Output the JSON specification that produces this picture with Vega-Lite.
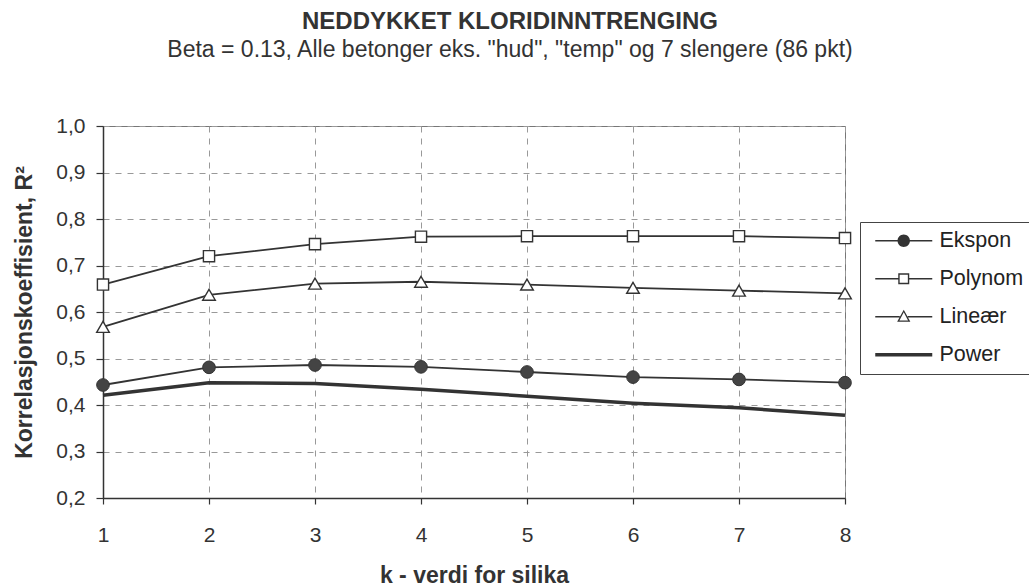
{
  "$schema": "https://vega.github.io/schema/vega-lite/v6.json",
  "width": 742,
  "height": 372,
  "autosize": {"type": "none"},
  "padding": {"left": 103, "top": 126, "right": 184, "bottom": 89},
  "background": "white",
  "title": {
    "text": "NEDDYKKET KLORIDINNTRENGING",
    "subtitle": "Beta = 0.13, Alle betonger eks. \"hud\", \"temp\" og 7 slengere (86 pkt)",
    "anchor": "middle",
    "frame": "group",
    "dx": 36,
    "offset": 53,
    "font": "Liberation Sans",
    "fontSize": 24,
    "fontWeight": "bold",
    "color": "#333333",
    "subtitleFont": "Liberation Sans",
    "subtitleFontSize": 23,
    "subtitleColor": "#333333",
    "subtitlePadding": 5
  },
  "config": {
    "view": {"stroke": "#777777", "strokeWidth": 1},
    "axis": {
      "labelFont": "Liberation Sans",
      "labelColor": "#333333",
      "labelFontSize": 21,
      "titleFont": "Liberation Sans",
      "titleFontSize": 23,
      "titleFontWeight": "bold",
      "titleColor": "#333333",
      "domainColor": "#333333",
      "domainWidth": 1.5,
      "tickColor": "#333333",
      "tickWidth": 1.2,
      "gridColor": "#999999",
      "gridDash": [6, 6],
      "gridWidth": 1,
      "labelFlush": false,
      "labelOverlap": false
    }
  },
  "data": {
    "values": [
      {"k": 1, "serie": "Ekspon", "r2": 0.443},
      {"k": 2, "serie": "Ekspon", "r2": 0.481},
      {"k": 3, "serie": "Ekspon", "r2": 0.486},
      {"k": 4, "serie": "Ekspon", "r2": 0.482},
      {"k": 5, "serie": "Ekspon", "r2": 0.471},
      {"k": 6, "serie": "Ekspon", "r2": 0.46},
      {"k": 7, "serie": "Ekspon", "r2": 0.455},
      {"k": 8, "serie": "Ekspon", "r2": 0.448},
      {"k": 1, "serie": "Polynom", "r2": 0.659},
      {"k": 2, "serie": "Polynom", "r2": 0.72},
      {"k": 3, "serie": "Polynom", "r2": 0.746},
      {"k": 4, "serie": "Polynom", "r2": 0.762},
      {"k": 5, "serie": "Polynom", "r2": 0.763},
      {"k": 6, "serie": "Polynom", "r2": 0.763},
      {"k": 7, "serie": "Polynom", "r2": 0.763},
      {"k": 8, "serie": "Polynom", "r2": 0.759},
      {"k": 1, "serie": "Lineær", "r2": 0.568},
      {"k": 2, "serie": "Lineær", "r2": 0.637},
      {"k": 3, "serie": "Lineær", "r2": 0.661},
      {"k": 4, "serie": "Lineær", "r2": 0.665},
      {"k": 5, "serie": "Lineær", "r2": 0.659},
      {"k": 6, "serie": "Lineær", "r2": 0.652},
      {"k": 7, "serie": "Lineær", "r2": 0.646},
      {"k": 8, "serie": "Lineær", "r2": 0.64},
      {"k": 1, "serie": "Power", "r2": 0.421},
      {"k": 2, "serie": "Power", "r2": 0.448},
      {"k": 3, "serie": "Power", "r2": 0.446},
      {"k": 4, "serie": "Power", "r2": 0.434},
      {"k": 5, "serie": "Power", "r2": 0.419},
      {"k": 6, "serie": "Power", "r2": 0.404},
      {"k": 7, "serie": "Power", "r2": 0.394},
      {"k": 8, "serie": "Power", "r2": 0.378}
    ]
  },
  "encoding": {
    "x": {
      "field": "k",
      "type": "quantitative",
      "scale": {"domain": [1, 8], "nice": false, "zero": false},
      "axis": {
        "values": [1, 2, 3, 4, 5, 6, 7, 8],
        "format": "d",
        "title": "k - verdi for silika",
        "tickSize": 6,
        "labelPadding": 20,
        "titlePadding": 19
      }
    },
    "y": {
      "field": "r2",
      "type": "quantitative",
      "scale": {"domain": [0.2, 1.0], "nice": false, "zero": false},
      "axis": {
        "values": [0.2, 0.3, 0.4, 0.5, 0.6, 0.7, 0.8, 0.9, 1.0],
        "labelExpr": "replace(format(datum.value, '.1f'), '.', ',')",
        "title": "Korrelasjonskoeffisient, R²",
        "tickSize": 7,
        "labelPadding": 11,
        "titlePadding": 19
      }
    }
  },
  "layer": [
    {
      "mark": {"type": "line", "color": "#333333"},
      "encoding": {
        "detail": {"field": "serie", "type": "nominal"},
        "strokeWidth": {"condition": {"test": "datum.serie === 'Power'", "value": 3.5}, "value": 1.8}
      }
    },
    {
      "transform": [{"filter": "datum.serie === 'Ekspon'"}],
      "mark": {"type": "point", "shape": "circle", "filled": true, "fill": "#444444", "stroke": "#333333", "strokeWidth": 1, "size": 160, "opacity": 1}
    },
    {
      "transform": [{"filter": "datum.serie === 'Polynom'"}],
      "mark": {"type": "point", "shape": "square", "filled": true, "fill": "white", "stroke": "#333333", "strokeWidth": 1.4, "size": 125, "opacity": 1}
    },
    {
      "transform": [{"filter": "datum.serie === 'Lineær'"}],
      "mark": {"type": "point", "shape": "triangle-up", "filled": true, "fill": "white", "stroke": "#333333", "strokeWidth": 1.4, "size": 160, "opacity": 1}
    },
    {
      "transform": [{"filter": "datum.k === 1"}],
      "mark": {"type": "point", "filled": true, "opacity": 0},
      "encoding": {
        "shape": {
          "field": "serie",
          "type": "nominal",
          "scale": {
            "domain": ["Ekspon", "Polynom", "Lineær", "Power"],
            "range": [
              "M-2.85,-0.08H-0.5V0.08H-2.85Z M0.5,-0.08H2.85V0.08H0.5Z M0.62,0A0.62,0.62 0 1,1 -0.62,0A0.62,0.62 0 1,1 0.62,0Z",
              "M-2.85,-0.08H-0.55V0.08H-2.85Z M0.55,-0.08H2.85V0.08H0.55Z M-0.55,-0.55H0.55V0.55H-0.55Z M-0.41,-0.41V0.41H0.41V-0.41Z",
              "M-2.85,-0.08H-0.4V0.08H-2.85Z M0.4,-0.08H2.85V0.08H0.4Z M0,-0.7L0.66,0.5L-0.66,0.5Z M0,-0.44L-0.43,0.37L0.43,0.37Z",
              "M-2.85,-0.17H2.85V0.17H-2.85Z"
            ]
          },
          "legend": {
            "title": null,
            "orient": "none",
            "legendX": 757,
            "legendY": 96,
            "padding": 8,
            "strokeColor": "#444444",
            "fillColor": "white",
            "symbolSize": 400,
            "symbolStrokeWidth": 0,
            "symbolOpacity": 1,
            "symbolOffset": 25,
            "labelOffset": 25,
            "labelFont": "Liberation Sans",
            "labelFontSize": 21.5,
            "labelColor": "#222222",
            "rowPadding": 15,
            "labelLimit": 300
          }
        },
        "fill": {
          "field": "serie",
          "type": "nominal",
          "scale": {
            "domain": ["Ekspon", "Polynom", "Lineær", "Power"],
            "range": ["#333333", "#333333", "#333333", "#333333"]
          },
          "legend": {
            "title": null,
            "orient": "none",
            "legendX": 757,
            "legendY": 96,
            "padding": 8,
            "strokeColor": "#444444",
            "fillColor": "white",
            "symbolSize": 400,
            "symbolStrokeWidth": 0,
            "symbolOpacity": 1,
            "symbolOffset": 25,
            "labelOffset": 25,
            "labelFont": "Liberation Sans",
            "labelFontSize": 21.5,
            "labelColor": "#222222",
            "rowPadding": 15,
            "labelLimit": 300
          }
        }
      }
    }
  ]
}
